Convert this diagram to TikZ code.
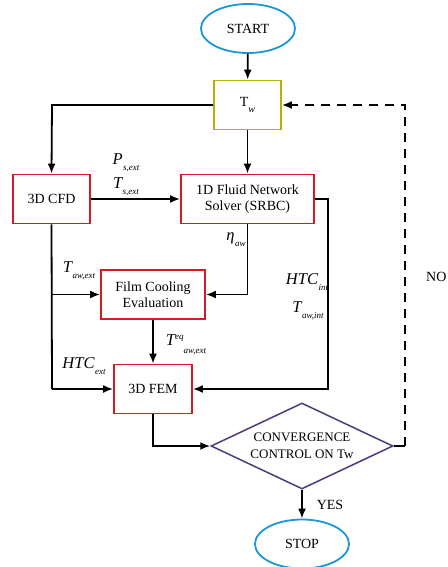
\documentclass[tikz,border=0pt]{standalone}
\usepackage{fontspec}
\setmainfont{Liberation Serif}
\usetikzlibrary{shapes.geometric,arrows.meta}
\definecolor{cblue}{HTML}{1B96D6}
\definecolor{cred}{HTML}{D61A1F}
\definecolor{colive}{HTML}{B2B400}
\definecolor{cpurple}{HTML}{4E3A7A}
\newcommand{\sublbl}[2]{{\itshape #1\kern0.5pt\raisebox{-0.38em}{\fontsize{9}{9}\selectfont #2}}}
\begin{document}
\begin{tikzpicture}[x=1pt,y=-1pt,
  font=\fontsize{14}{16.5}\selectfont,
  term/.style={ellipse,draw=cblue,line width=1.8pt,minimum width=94pt,minimum height=49pt,inner sep=0pt},
  rbox/.style={draw=cred,line width=1.8pt,minimum height=49pt,inner sep=1pt,align=center},
  conn/.style={line width=1.8pt,-{Latex[length=10pt,width=8pt]}},
  line/.style={line width=1.8pt},
  lbl/.style={inner sep=0pt,font=\fontsize{16.5}{18}\selectfont}]
\useasboundingbox (0,0) rectangle (447,567);
\node[term] (start) at (248,28.5) {START};
\node[draw=colive,line width=1.8pt,minimum width=67pt,minimum height=49pt] (tw) at (247.5,105) {T\raisebox{-0.4em}{\fontsize{10}{10}\selectfont\itshape w}};
\node[rbox,minimum width=77pt] (cfd) at (51.5,199) {3D CFD};
\node[rbox,minimum width=133pt] (fluid) at (247.5,199) {1D Fluid Network\\Solver (SRBC)};
\node[rbox,minimum width=104pt] (film) at (153,294.5) {Film Cooling\\Evaluation};
\node[rbox,minimum width=78pt] (fem) at (153,389) {3D FEM};
\node[diamond,draw=cpurple,line width=1.5pt,minimum width=182pt,minimum height=86pt,aspect=2.1,inner sep=0pt,align=center,font=\fontsize{13}{17}\selectfont] (conv) at (302,446) {CONVERGENCE\\CONTROL ON Tw};
\node[term] (stop) at (302,544) {STOP};

\coordinate (c1) at (52,105);
\coordinate (c2) at (52,294.5);
\coordinate (c3) at (52,389);
\coordinate (c4) at (247.5,294.5);
\coordinate (c5) at (328,199);
\coordinate (c6) at (328,389);
\coordinate (c7) at (153,446);
\coordinate (c8) at (405,446);
\coordinate (c9) at (405,105);

\draw[conn] (start) -- (tw);
\draw[conn] (tw.west) -- (c1) -- (cfd.north);
\draw[conn] (tw) -- (fluid);
\draw[conn] (cfd) -- (fluid);
\draw[line] (cfd.south) -- (c3);
\draw[conn] (c2) -- (film.west);
\draw[conn] (c3) -- (fem.west);
\draw[conn] (fluid.south) -- (c4) -- (film.east);
\draw[conn] (film) -- (fem);
\draw[conn] (fluid.east) -- (c5) -- (c6) -- (fem.east);
\draw[conn] (fem.south) -- (c7) -- (conv.west);
\draw[conn] (conv) -- (stop);
\draw[line] (conv.east) -- (c8);
\draw[line,dash pattern=on 9pt off 7pt,-{Latex[length=10pt,width=8pt]}] (c8) -- (c9) -- (tw.east);

\node[lbl] (p1) at (126,163) {\sublbl{P}{s,ext}};
\node[lbl] (p2) at (126,187) {\sublbl{T}{s,ext}};
\node[lbl] (p3) at (79,271) {\sublbl{T}{aw,ext}};
\node[lbl] (p4) at (236,240) {\sublbl{η}{aw}};
\node[lbl] (p5) at (307,282) {\sublbl{HTC}{int}};
\node[lbl] (p6) at (308,311) {\sublbl{T}{aw,int}};
\node[lbl] (p7) at (186,345) {{\itshape T}\raisebox{0.35em}{\fontsize{9}{9}\selectfont\itshape eq}\raisebox{-0.5em}{\fontsize{9}{9}\selectfont\itshape aw,ext}};
\node[lbl] (p8) at (84,366) {\sublbl{HTC}{ext}};
\node[lbl,anchor=west,font=\fontsize{14}{16}\selectfont] (p9) at (426,277) {NO};
\node[lbl,font=\fontsize{14}{16}\selectfont] (p10) at (330,505) {YES};
\end{tikzpicture}
\end{document}
